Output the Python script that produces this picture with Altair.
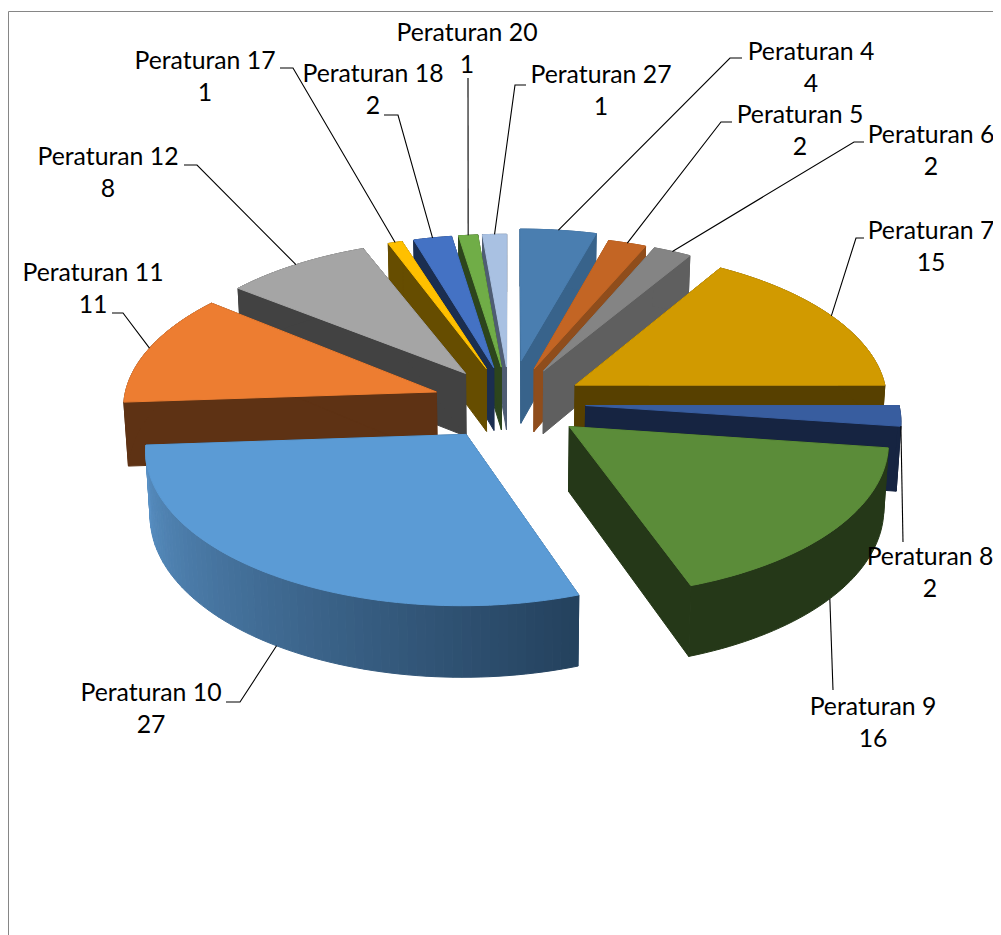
import math
import altair as alt
import pandas as pd

# ---- chart data ----
names = ["Peraturan 4", "Peraturan 5", "Peraturan 6", "Peraturan 7", "Peraturan 8",
         "Peraturan 9", "Peraturan 10", "Peraturan 11", "Peraturan 12", "Peraturan 17",
         "Peraturan 18", "Peraturan 20", "Peraturan 27"]
values = [4, 2, 2, 15, 2, 16, 27, 11, 8, 1, 2, 1, 1]
top_colors = ["#4A7EB0", "#C36524", "#848484", "#D19A00", "#385D9F", "#5B8C39", "#5B9BD5",
              "#ED7D31", "#A5A5A5", "#FFC000", "#4472C4", "#70AD47", "#A9C1E2"]
side_colors = ["#38638B", "#8F4D1C", "#5F5F5F", "#574000", "#162441", "#253818", "#2F5272",
               "#5E3214", "#424242", "#664D00", "#1B2E50", "#2D451C", "#4F5D73"]
paint_order = [0, 1, 2, 12, 11, 10, 9, 8, 3, 4, 7, 5, 6]

# ---- layout of the labels and leader lines (page pixels) ----
label_center = [(811, 53), (800, 116), (931, 136), (931, 232), (930, 558), (873, 708),
                (151, 694), (93, 274), (108, 158), (205, 62), (373, 75), (467, 34), (601, 76)]
line_gap = 32
elbows = [[(730, 58), (742, 58)], [(721, 122), (732, 122)], [(854, 142), (864, 142)],
          [(856, 238), (864, 238)], [(903, 542)], [(833, 690)], [(240, 702), (226, 702)],
          [(123, 313), (112, 313)], [(197, 165), (184, 165)], [(293, 68), (280, 68)],
          [(398, 115), (384, 115)], [(468, 78)], [(515, 85), (526, 85)]]
leader_on_bottom = {5, 6}
PAGE_RIGHT, PAGE_BOTTOM = 993, 935

# ---- perspective of the pie ----
CX, CY, AX, BY, PERSP, DEPTH, SHRINK = 509, 403, 313, 150.4, 0.088, 64, 0.988
explode = [0.29, 0.245, 0.245, 0.245, 0.245, 0.245, 0.245, 0.245, 0.245, 0.245, 0.245, 0.245, 0.245]
# small visual corrections of each slice's start and end, in degrees
start_trim = [0, 0, 0, 0, 0, 0, 0, 0, -1, -1, -1, -1, -1]
end_trim = [0, 0, 0, 0, 0, 0, 0, 0, -2.2, -2, -1, -1, 0]


def project(a, b, on_top=True):
    w = 1 + PERSP * b
    x = CX + AX * a / w
    y = CY - BY * b / w
    if not on_top:
        x = CX + (x - CX) * SHRINK
        y = y + DEPTH / w
    return x, y


total = sum(values)
starts = []
acc = 0
for v in values:
    starts.append(acc / total * 2 * math.pi)
    acc += v


def slice_point(i, theta, radius=1.0):
    mid = starts[i] + values[i] / total * math.pi
    return (radius * math.sin(theta) + explode[i] * math.sin(mid),
            radius * math.cos(theta) + explode[i] * math.cos(mid))


def mix(c1, c2, t):
    a = [int(c1[j:j + 2], 16) for j in (1, 3, 5)]
    b = [int(c2[j:j + 2], 16) for j in (1, 3, 5)]
    return "#%02x%02x%02x" % tuple(round(p + (q - p) * t) for p, q in zip(a, b))


rows = []
poly_id = [0]


def add_poly(points, color):
    poly_id[0] += 1
    for k, (x, y) in enumerate(points + points[:1]):
        rows.append({"poly": poly_id[0], "i": k, "x": x, "y": y, "c": color})


leaders = []
for i in paint_order:
    a0 = starts[i] + math.radians(start_trim[i])
    a1 = starts[i] + values[i] / total * 2 * math.pi + math.radians(end_trim[i])
    n = max(2, int((a1 - a0) / math.radians(1.5)))
    thetas = [a0 + (a1 - a0) * k / n for k in range(n + 1)]
    apex = slice_point(i, 0, 0)
    # cut faces
    for th in (a0, a1):
        p = slice_point(i, th)
        add_poly([project(*apex), project(*p), project(*p, False), project(*apex, False)], side_colors[i])
    # rim
    if i == 6:
        for k in range(n):
            p, q = slice_point(i, thetas[k]), slice_point(i, thetas[k + 1])
            t = (k + 0.5) / n
            add_poly([project(*p), project(*q), project(*q, False), project(*p, False)],
                     mix("#24415D", "#5A92C6", t))
    else:
        arc = [slice_point(i, th) for th in thetas]
        add_poly([project(*p) for p in arc] + [project(*p, False) for p in reversed(arc)], side_colors[i])
    # top
    add_poly([project(*apex)] + [project(*slice_point(i, th)) for th in thetas], top_colors[i])

for i in range(len(values)):
    mid = starts[i] + values[i] / total * math.pi + math.radians(start_trim[i] + end_trim[i]) / 2
    if i == 4:
        mid = starts[i] + values[i] / total * 2 * math.pi * 0.98
    start = project(*slice_point(i, mid), i not in leader_on_bottom)
    for k, (x, y) in enumerate([start] + elbows[i]):
        leaders.append({"leader": i, "i": k, "x": x, "y": y})

labels = []
for i, (lx, ly) in enumerate(label_center):
    labels.append({"x": lx, "y": ly, "t": names[i]})
    labels.append({"x": lx, "y": ly + line_gap, "t": str(values[i])})

frame = [{"x": PAGE_RIGHT, "y": 11.5, "i": 0}, {"x": 8.5, "y": 11.5, "i": 1}, {"x": 8.5, "y": PAGE_BOTTOM, "i": 2}]

X = alt.X("x:Q", scale=alt.Scale(domain=[8, PAGE_RIGHT], nice=False, zero=False), axis=None)
Y = alt.Y("y:Q", scale=alt.Scale(domain=[PAGE_BOTTOM, 8], nice=False, zero=False), axis=None)

frame_layer = alt.Chart(pd.DataFrame(frame)).mark_line(color="#868686", strokeWidth=1).encode(
    x=X, y=Y, order=alt.Order("i:Q"))

pie_layer = alt.Chart(pd.DataFrame(rows)).mark_line(strokeWidth=1).encode(
    x=X, y=Y, order=alt.Order("i:Q"), detail="poly:N",
    fill=alt.Fill("c:N", scale=None, legend=None),
    stroke=alt.Stroke("c:N", scale=None, legend=None))

leader_layer = alt.Chart(pd.DataFrame(leaders)).mark_line(color="#000000", strokeWidth=1.1).encode(
    x=X, y=Y, order=alt.Order("i:Q"), detail="leader:N")

text_layer = alt.Chart(pd.DataFrame(labels)).mark_text(
    font="Lato", fontSize=24.8, color="#000000", align="center", baseline="middle").encode(
    x=X, y=Y, text="t:N")

chart = alt.layer(frame_layer, pie_layer, leader_layer, text_layer).properties(
    width=PAGE_RIGHT - 8, height=PAGE_BOTTOM - 8, padding=0,
    autosize=alt.AutoSizeParams(type="none"),
    background="#FFFFFF",
).configure_view(stroke=None)

chart.save("out.html", embed_options={"renderer": "svg", "actions": False})
